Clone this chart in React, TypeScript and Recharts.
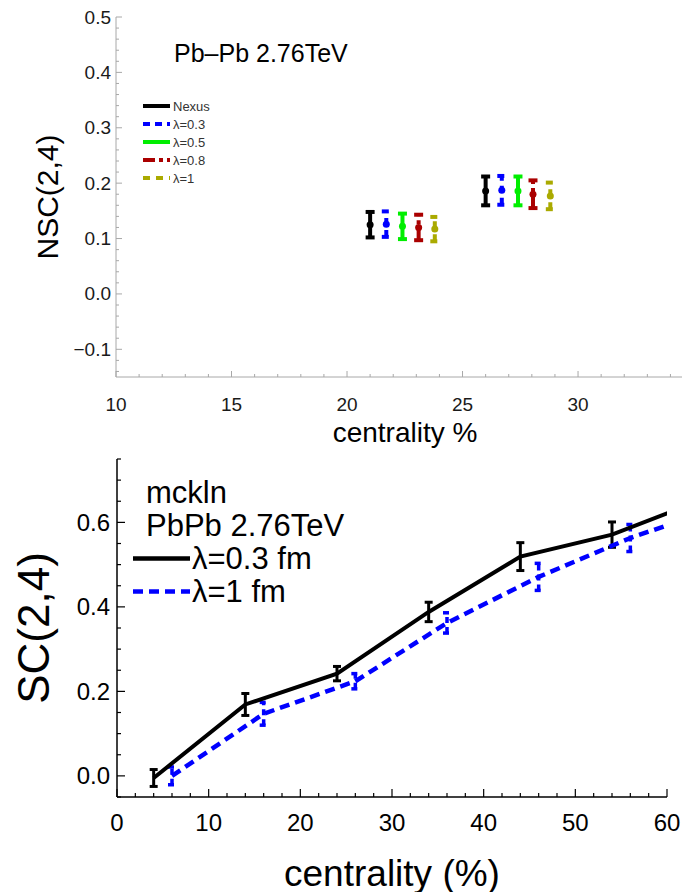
import React from "react";
import { ScatterChart, Scatter, XAxis, YAxis, ErrorBar, Legend, Label } from "recharts";

const FONT = "'Liberation Sans', Arial, Helvetica, sans-serif";

// ---------- top panel: NSC(2,4), Pb-Pb 2.76TeV ----------
const topNames = ["Nexus", "λ=0.3", "λ=0.5", "λ=0.8", "λ=1"];
const topColors = ["#000000", "#0000ff", "#00ee00", "#aa0000", "#aaaa00"];
const topDash = ["", "7 5", "", "12 4 4 4", "7 6"];

const nexusCent = [21.0, 26.0];
const nexusNsc = [0.125, 0.186];
const nexusErr = [0.023, 0.026];

const lam03Cent = [21.7, 26.7];
const lam03Nsc = [0.126, 0.187];
const lam03Err = [0.023, 0.026];

const lam05Cent = [22.4, 27.4];
const lam05Nsc = [0.122, 0.186];
const lam05Err = [0.023, 0.026];

const lam08Cent = [23.1, 28.05];
const lam08Nsc = [0.12, 0.18];
const lam08Err = [0.023, 0.025];

const lam1Cent = [23.8, 28.8];
const lam1Nsc = [0.117, 0.177];
const lam1Err = [0.022, 0.024];

const topXLabels = [10, 15, 20, 25, 30];
const topYLabels = [-0.1, 0.0, 0.1, 0.2, 0.3, 0.4, 0.5];

// ---------- bottom panel: SC(2,4), mckln ----------
const botNames = ["λ=0.3 fm", "λ=1 fm"];
const botColors = ["#000000", "#0000ff"];
const botDash = ["", "10 6"];

const l03Cent = [4, 14, 24, 34, 44, 54, 64];
const l03Sc = [-0.005, 0.169, 0.242, 0.388, 0.519, 0.571, 0.655];
const l03Err = [0.02, 0.026, 0.017, 0.023, 0.033, 0.03, 0.03];

const l1Cent = [6, 16, 26, 36, 46, 56, 66];
const l1Sc = [0.0, 0.147, 0.224, 0.362, 0.471, 0.563, 0.638];
const l1Err = [0.021, 0.027, 0.018, 0.024, 0.032, 0.032, 0.03];

const botXLabels = [0, 10, 20, 30, 40, 50, 60];
const botYLabels = [0.0, 0.2, 0.4, 0.6];

// minor tick positions (marks only)
const steps = (a: number, b: number, s: number) => {
  const out: number[] = [];
  for (let v = a; v <= b + 1e-9; v += s) out.push(Math.round(v * 1000) / 1000);
  return out;
};

const toPts = (xs: number[], ys: number[], es: number[]) =>
  xs.map((x, i) => ({ x, y: ys[i], e: es[i] }));

const topData = [
  toPts(nexusCent, nexusNsc, nexusErr),
  toPts(lam03Cent, lam03Nsc, lam03Err),
  toPts(lam05Cent, lam05Nsc, lam05Err),
  toPts(lam08Cent, lam08Nsc, lam08Err),
  toPts(lam1Cent, lam1Nsc, lam1Err),
];
const botData = [toPts(l03Cent, l03Sc, l03Err), toPts(l1Cent, l1Sc, l1Err)];

const fmt1 = (v: number) => v.toFixed(1).replace("-", "\u2212");
const fmt0 = (v: number) => String(Math.round(v));

// inward tick, long for labelled values, short otherwise
const FrameTick = (props: any) => {
  const { x, y, payload, side, majors, bigLen, smallLen, tickColor, tickWidth, labelSize, labelColor, gap, fmt } = props;
  if (!payload) return null;
  const v = Number(payload.value);
  const isMajor = majors.some((m: number) => Math.abs(m - v) < 1e-6);
  const len = isMajor ? bigLen : smallLen;
  const dx = side === "left" ? len : side === "right" ? -len : 0;
  const dy = side === "bottom" ? -len : side === "top" ? len : 0;
  let label = null;
  if (fmt && isMajor) {
    if (side === "left")
      label = (
        <text x={x - gap} y={y} textAnchor="end" dominantBaseline="central" fontSize={labelSize} fill={labelColor} fontFamily={FONT}>
          {fmt(v)}
        </text>
      );
    if (side === "bottom")
      label = (
        <text x={x} y={y + gap} textAnchor="middle" dominantBaseline="central" fontSize={labelSize} fill={labelColor} fontFamily={FONT}>
          {fmt(v)}
        </text>
      );
  }
  return (
    <g>
      <line x1={x} y1={y} x2={x + dx} y2={y + dy} stroke={tickColor} strokeWidth={tickWidth} />
      {label}
    </g>
  );
};

const YTitle = (props: any) => {
  const { viewBox, caption, lx, size } = props;
  const cy = viewBox.y + viewBox.height / 2;
  return (
    <text x={lx} y={cy} transform={`rotate(-90 ${lx} ${cy})`} textAnchor="middle" dominantBaseline="central" fontSize={size} fill="#000" fontFamily={FONT}>
      {caption}
    </text>
  );
};

const XTitle = (props: any) => {
  const { viewBox, caption, dy, dx, size } = props;
  const cx = viewBox.x + viewBox.width / 2 + (dx || 0);
  return (
    <text x={cx} y={viewBox.y + dy} textAnchor="middle" dominantBaseline="central" fontSize={size} fill="#000" fontFamily={FONT}>
      {caption}
    </text>
  );
};

const TopLegend = () => (
  <div style={{ fontFamily: FONT }}>
    <div style={{ fontSize: 25, lineHeight: "26px", height: 26, marginLeft: 31, color: "#000", whiteSpace: "nowrap" }}>
      Pb–Pb 2.76TeV
    </div>
    <div style={{ height: 31 }} />
    {topNames.map((n, i) => (
      <div key={n} style={{ display: "flex", alignItems: "center", height: 18, fontSize: 13, color: "#333" }}>
        <svg width={30} height={18} style={{ display: "block" }}>
          <line x1={0} x2={27} y1={9} y2={9} stroke={topColors[i]} strokeWidth={4} strokeDasharray={topDash[i] || undefined} />
        </svg>
        <span>{n}</span>
      </div>
    ))}
  </div>
);

const BotLegend = () => (
  <div style={{ fontFamily: FONT, fontSize: 31, color: "#000", whiteSpace: "nowrap" }}>
    <div style={{ height: 33, lineHeight: "33px", marginLeft: 13 }}>mckln</div>
    <div style={{ height: 33, lineHeight: "33px", marginLeft: 13 }}>PbPb 2.76TeV</div>
    {botNames.map((n, i) => (
      <div key={n} style={{ display: "flex", alignItems: "center", height: 33 }}>
        <svg width={59} height={33} style={{ display: "block" }}>
          <line x1={0} x2={57} y1={16.5} y2={16.5} stroke={botColors[i]} strokeWidth={4.5} strokeDasharray={botDash[i] || undefined} />
        </svg>
        <span style={{ lineHeight: "33px" }}>{n}</span>
      </div>
    ))}
  </div>
);

const TOP_FRAME = "#a8a8a8";

export default function App() {
  const topXTicks = steps(10, 34, 1);
  const topYTicks = steps(-0.14, 0.5, 0.02);
  const botXTicks = steps(0, 60, 2);
  const botYTicks = steps(-0.05, 0.75, 0.05);

  const topTick = { bigLen: 6, smallLen: 3, tickColor: TOP_FRAME, tickWidth: 1 };
  const botTick = { bigLen: 8, smallLen: 4, tickColor: "#000", tickWidth: 1.2 };

  return (
    <div style={{ position: "absolute", left: 0, top: 0, width: 682, height: 892, background: "#fff" }}>
      <div style={{ position: "absolute", left: 0, top: 0 }}>
        <ScatterChart width={682} height={450} margin={{ top: 17, right: 0, bottom: 0, left: 0 }}>
          <XAxis
            xAxisId="b"
            type="number"
            dataKey="x"
            domain={[10, 34.5]}
            allowDataOverflow
            ticks={topXTicks}
            interval={0}
            height={73}
            axisLine={{ stroke: TOP_FRAME, strokeWidth: 1 }}
            tickLine={false}
            tickSize={0}
            tickMargin={0}
            tick={<FrameTick side="bottom" majors={topXLabels} {...topTick} labelSize={19} labelColor="#1a1a1a" gap={27} fmt={fmt0} />}
          >
            <Label content={<XTitle caption="centrality %" dy={55} dx={6} size={28} />} />
          </XAxis>
          <XAxis
            xAxisId="t"
            orientation="top"
            type="number"
            domain={[10, 34.5]}
            allowDataOverflow
            ticks={topXTicks}
            interval={0}
            height={0}
            axisLine={{ stroke: TOP_FRAME, strokeWidth: 1 }}
            tickLine={false}
            tickSize={0}
            tickMargin={0}
            tick={<FrameTick side="top" majors={topXLabels} {...topTick} />}
          />
          <YAxis
            yAxisId="l"
            type="number"
            dataKey="y"
            domain={[-0.15, 0.5]}
            allowDataOverflow
            ticks={topYTicks}
            interval={0}
            width={116}
            axisLine={{ stroke: TOP_FRAME, strokeWidth: 1 }}
            tickLine={false}
            tickSize={0}
            tickMargin={0}
            tick={<FrameTick side="left" majors={topYLabels} {...topTick} labelSize={19} labelColor="#1a1a1a" gap={5} fmt={fmt1} />}
          >
            <Label content={<YTitle caption="NSC(2,4)" lx={47} size={30} />} />
          </YAxis>
          <Legend
            layout="vertical"
            align="center"
            verticalAlign="middle"
            wrapperStyle={{ left: 143, top: 40, width: "auto", height: "auto" }}
            content={<TopLegend />}
          />
          {topData.map((d, i) => (
            <Scatter
              key={topNames[i]}
              name={topNames[i]}
              data={d}
              xAxisId="b"
              yAxisId="l"
              fill={topColors[i]}
              isAnimationActive={false}
              shape={(p: any) => <circle cx={p.cx} cy={p.cy} r={3.5} fill={topColors[i]} />}
            >
              <ErrorBar
                dataKey="e"
                direction="y"
                width={4.5}
                strokeWidth={4}
                stroke={topColors[i]}
                strokeDasharray={topDash[i] || undefined}
                isAnimationActive={false}
              />
            </Scatter>
          ))}
        </ScatterChart>
      </div>

      <div style={{ position: "absolute", left: 0, top: 450 }}>
        <ScatterChart width={682} height={442} margin={{ top: 9, right: 15, bottom: 0, left: 0 }}>
          <XAxis
            xAxisId="b"
            type="number"
            dataKey="x"
            domain={[0, 60]}
            allowDataOverflow
            ticks={botXTicks}
            interval={0}
            height={95}
            axisLine={{ stroke: "#000", strokeWidth: 1.5 }}
            tickLine={false}
            tickSize={0}
            tickMargin={0}
            tick={<FrameTick side="bottom" majors={botXLabels} {...botTick} labelSize={24} labelColor="#000" gap={25} fmt={fmt0} />}
          >
            <Label content={<XTitle caption="centrality (%)" dy={76} size={37} />} />
          </XAxis>
          <XAxis
            xAxisId="t"
            orientation="top"
            type="number"
            domain={[0, 60]}
            allowDataOverflow
            ticks={botXTicks}
            interval={0}
            height={0}
            axisLine={{ stroke: "#000", strokeWidth: 1.5 }}
            tickLine={false}
            tickSize={0}
            tickMargin={0}
            tick={<FrameTick side="top" majors={botXLabels} {...botTick} />}
          />
          <YAxis
            yAxisId="l"
            type="number"
            dataKey="y"
            domain={[-0.05, 0.75]}
            allowDataOverflow
            ticks={botYTicks}
            interval={0}
            width={117}
            axisLine={{ stroke: "#000", strokeWidth: 1.5 }}
            tickLine={false}
            tickSize={0}
            tickMargin={0}
            tick={<FrameTick side="left" majors={botYLabels} {...botTick} labelSize={24} labelColor="#000" gap={7} fmt={fmt1} />}
          >
            <Label content={<YTitle caption="SC(2,4)" lx={33} size={44} />} />
          </YAxis>
          <YAxis
            yAxisId="r"
            orientation="right"
            type="number"
            domain={[-0.05, 0.75]}
            allowDataOverflow
            ticks={botYTicks}
            interval={0}
            width={0}
            axisLine={{ stroke: "#000", strokeWidth: 1.5 }}
            tickLine={false}
            tickSize={0}
            tickMargin={0}
            tick={<FrameTick side="right" majors={botYLabels} {...botTick} />}
          />
          <Legend
            layout="vertical"
            align="center"
            verticalAlign="middle"
            wrapperStyle={{ left: 133, top: 26, width: "auto", height: "auto" }}
            content={<BotLegend />}
          />
          {botData.map((d, i) => (
            <Scatter
              key={botNames[i]}
              name={botNames[i]}
              data={d}
              xAxisId="b"
              yAxisId="l"
              fill={botColors[i]}
              isAnimationActive={false}
              line={{ stroke: botColors[i], strokeWidth: i === 0 ? 4 : 4.5, strokeDasharray: botDash[i] || undefined }}
              shape={() => <g />}
            >
              <ErrorBar
                dataKey="e"
                direction="y"
                width={4}
                strokeWidth={i === 0 ? 3 : 3.5}
                stroke={botColors[i]}
                strokeDasharray={botDash[i] ? "6 4" : undefined}
                isAnimationActive={false}
              />
            </Scatter>
          ))}
        </ScatterChart>
      </div>
    </div>
  );
}
